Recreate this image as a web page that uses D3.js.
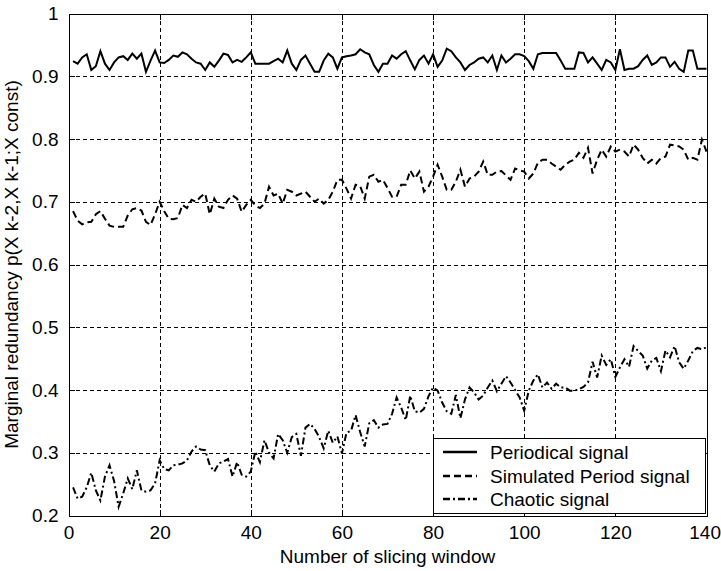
<!DOCTYPE html>
<html><head><meta charset="utf-8">
<script src="https://cdn.jsdelivr.net/npm/d3@7/dist/d3.min.js"></script>
<style>body{margin:0;background:#fff}text{font-family:"Liberation Sans",Arial,sans-serif;fill:#000}</style>
</head><body><svg id="c" width="721" height="571"></svg>
<script>
const windows = d3.range(1, 141);
const periodical = [
0.924,0.920,0.930,0.935,0.910,0.916,0.940,0.920,0.910,0.922,
0.930,0.932,0.926,0.936,0.928,0.936,0.907,0.925,0.941,0.922,
0.921,0.926,0.933,0.931,0.938,0.935,0.928,0.922,0.920,0.910,
0.922,0.915,0.925,0.936,0.934,0.922,0.926,0.923,0.930,0.938,
0.920,0.920,0.920,0.920,0.924,0.928,0.922,0.941,0.920,0.910,
0.926,0.933,0.920,0.907,0.907,0.925,0.936,0.930,0.912,0.930,
0.932,0.933,0.935,0.943,0.938,0.935,0.918,0.907,0.920,0.920,
0.933,0.928,0.935,0.940,0.925,0.911,0.926,0.933,0.920,0.935,
0.915,0.925,0.944,0.940,0.930,0.922,0.910,0.918,0.922,0.928,
0.930,0.922,0.933,0.910,0.933,0.922,0.928,0.935,0.935,0.932,
0.924,0.912,0.935,0.937,0.937,0.937,0.937,0.925,0.912,0.912,
0.912,0.938,0.937,0.922,0.930,0.920,0.910,0.926,0.922,0.910,
0.943,0.910,0.912,0.912,0.916,0.926,0.933,0.918,0.922,0.930,
0.930,0.915,0.923,0.912,0.907,0.941,0.941,0.912,0.912,0.912];
const simulated = [
0.685,0.670,0.664,0.667,0.668,0.680,0.685,0.673,0.662,0.660,
0.660,0.660,0.678,0.688,0.690,0.686,0.668,0.663,0.680,0.700,
0.685,0.673,0.672,0.674,0.695,0.690,0.703,0.700,0.708,0.713,
0.680,0.705,0.692,0.690,0.703,0.710,0.705,0.684,0.695,0.703,
0.694,0.690,0.697,0.724,0.710,0.713,0.697,0.719,0.716,0.710,
0.713,0.716,0.708,0.700,0.705,0.697,0.703,0.716,0.735,0.735,
0.721,0.705,0.727,0.725,0.705,0.740,0.743,0.732,0.735,0.722,
0.708,0.708,0.727,0.727,0.750,0.737,0.748,0.716,0.724,0.740,
0.759,0.740,0.719,0.719,0.732,0.751,0.724,0.737,0.740,0.748,
0.764,0.743,0.743,0.748,0.749,0.742,0.735,0.753,0.750,0.748,
0.737,0.745,0.762,0.767,0.767,0.761,0.756,0.751,0.759,0.764,
0.767,0.778,0.770,0.786,0.745,0.767,0.783,0.772,0.788,0.780,
0.783,0.780,0.772,0.791,0.783,0.770,0.761,0.767,0.761,0.770,
0.772,0.791,0.790,0.788,0.783,0.767,0.770,0.767,0.799,0.780];
const chaotic = [
0.245,0.227,0.230,0.245,0.268,0.240,0.224,0.262,0.280,0.255,
0.214,0.235,0.259,0.242,0.272,0.240,0.238,0.240,0.251,0.288,
0.274,0.272,0.280,0.281,0.283,0.288,0.302,0.310,0.305,0.304,
0.280,0.270,0.283,0.286,0.290,0.262,0.285,0.265,0.262,0.270,
0.302,0.285,0.320,0.300,0.291,0.330,0.320,0.300,0.325,0.330,
0.295,0.340,0.346,0.338,0.325,0.307,0.335,0.316,0.326,0.299,
0.332,0.335,0.360,0.333,0.310,0.347,0.352,0.340,0.345,0.346,
0.362,0.388,0.372,0.352,0.391,0.366,0.364,0.370,0.390,0.404,
0.399,0.380,0.366,0.362,0.392,0.355,0.385,0.404,0.396,0.385,
0.391,0.404,0.415,0.398,0.410,0.422,0.412,0.400,0.388,0.367,
0.399,0.415,0.425,0.404,0.412,0.402,0.410,0.404,0.404,0.399,
0.399,0.401,0.405,0.412,0.445,0.420,0.455,0.440,0.449,0.421,
0.436,0.449,0.437,0.470,0.462,0.455,0.434,0.447,0.451,0.430,
0.463,0.452,0.470,0.444,0.434,0.447,0.462,0.467,0.465,0.468];
const xTicks = [0,20,40,60,80,100,120,140];
const yTicks = [0.2,0.3,0.4,0.5,0.6,0.7,0.8,0.9,1];
const yTickLabels = ["0.2","0.3","0.4","0.5","0.6","0.7","0.8","0.9","1"];
const seriesNames = ["Periodical signal","Simulated Period signal","Chaotic signal"];
const seriesValues = [periodical, simulated, chaotic];
const dashes = [null, "7,4", "7,3,2,3"];

const L=68.5, R=706.5, T=13.5, B=515.5;
const svg = d3.select("#c");
const x = d3.scaleLinear().domain([0,140]).range([L,R]);
const y = d3.scaleLinear().domain([0.2,1]).range([B,T]);

// grid
const g = svg.append("g").attr("shape-rendering","crispEdges");
g.selectAll(".gx").data(xTicks.slice(1,-1)).enter().append("line")
  .attr("x1",d=>Math.round(x(d))+0.5).attr("x2",d=>Math.round(x(d))+0.5).attr("y1",T).attr("y2",B)
  .attr("stroke","#000").attr("stroke-dasharray","4,3");
g.selectAll(".gy").data(yTicks.slice(1,-1)).enter().append("line")
  .attr("y1",d=>Math.round(y(d))+0.5).attr("y2",d=>Math.round(y(d))+0.5).attr("x1",L).attr("x2",R)
  .attr("stroke","#000").attr("stroke-dasharray","4,3");

// axes
const fs = 19;
const ax = svg.append("g").attr("transform",`translate(0,${B})`)
  .call(d3.axisBottom(x).tickValues(xTicks).tickSize(-6).tickPadding(10).tickFormat(d3.format("d")));
const axT = svg.append("g").attr("transform",`translate(0,${T})`)
  .call(d3.axisTop(x).tickValues(xTicks).tickSize(-6).tickFormat(""));
const ay = svg.append("g").attr("transform",`translate(${L},0)`)
  .call(d3.axisLeft(y).tickValues(yTicks).tickSize(-6).tickPadding(10).tickFormat((d,i)=>yTickLabels[i]));
const ayR = svg.append("g").attr("transform",`translate(${R},0)`)
  .call(d3.axisRight(y).tickValues(yTicks).tickSize(-6).tickFormat(""));
[ax,axT,ay,ayR].forEach(a=>{
  a.selectAll(".domain").attr("stroke","#000").attr("shape-rendering","crispEdges");
  a.selectAll(".tick line").attr("stroke","#000").attr("shape-rendering","crispEdges");
  a.selectAll("text").attr("font-size",fs).attr("font-family","Liberation Sans, Arial, sans-serif").attr("fill","#000");
});
ay.selectAll("text").attr("x",-10);
ax.selectAll(".tick text").filter(d=>d===140).attr("text-anchor","end").attr("x",14);

// lines
const line = d3.line().x((d,i)=>x(windows[i])).y(d=>y(d));
seriesValues.forEach((vals,k)=>{
  const p = svg.append("path").datum(vals).attr("d",line).attr("fill","none")
    .attr("stroke","#000").attr("stroke-width",2).attr("stroke-linejoin","miter");
  if(dashes[k]) p.attr("stroke-dasharray",dashes[k]);
});

// labels
svg.append("text").attr("x",(L+R)/2).attr("y",563).attr("text-anchor","middle")
  .attr("font-size",fs).text("Number of slicing window");
svg.append("text").attr("transform",`translate(18,${(T+B)/2}) rotate(-90)`).attr("text-anchor","middle")
  .attr("font-size",fs).text("Marginal redundancy p(X k-2,X k-1;X const)");

// legend
const lg = svg.append("g");
lg.append("rect").attr("x",433.5).attr("y",438.5).attr("width",272).attr("height",75)
  .attr("fill","#fff").attr("stroke","#000").attr("shape-rendering","crispEdges");
const rows=[452,476,499];
seriesNames.forEach((n,k)=>{
  const l = lg.append("line").attr("x1",443).attr("x2",477).attr("y1",rows[k]).attr("y2",rows[k])
    .attr("stroke","#000").attr("stroke-width",2.5);
  if(dashes[k]) l.attr("stroke-dasharray",dashes[k]);
  lg.append("text").attr("x",490).attr("y",rows[k]).attr("dy","0.35em").attr("font-size",fs).text(n);
});
</script></body></html>
